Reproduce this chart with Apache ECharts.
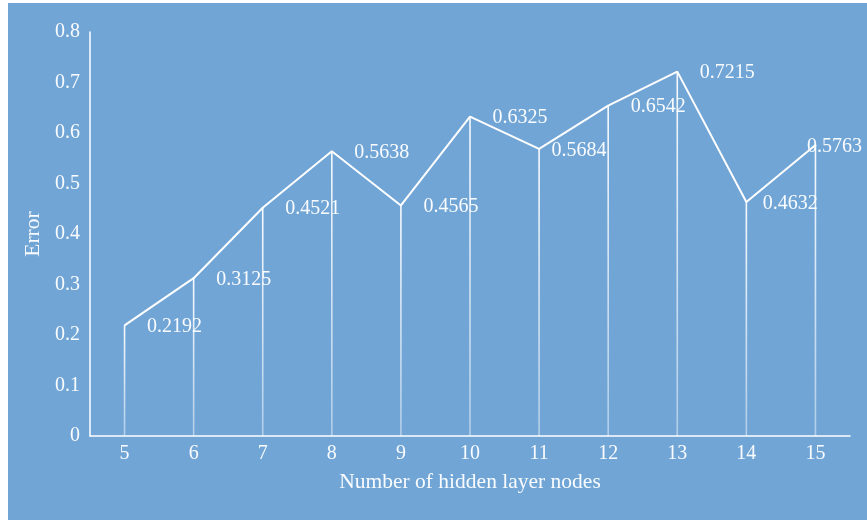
<!DOCTYPE html>
<html>
<head>
<meta charset="utf-8">
<script src="https://cdn.jsdelivr.net/npm/echarts@6/dist/echarts.min.js"></script>
<style>
  html, body { margin: 0; padding: 0; background: #ffffff; }
  #chart { width: 867px; height: 520px; }
</style>
</head>
<body>
<div id="chart"></div>
<script>
// Hidden-layer node counts and the resulting error
const nodeCounts = ['5', '6', '7', '8', '9', '10', '11', '12', '13', '14', '15'];
const errorValues = [0.2192, 0.3125, 0.4521, 0.5638, 0.4565, 0.6325, 0.5684, 0.6542, 0.7215, 0.4632, 0.5763];
const yTicks = [0, 0.1, 0.2, 0.3, 0.4, 0.5, 0.6, 0.7, 0.8];

// Horizontal nudges for a few value labels that sit closer to their point
const labelNudge = { 6: -10, 9: -6, 10: -31 };

const FONT = '"Liberation Serif", "Times New Roman", serif';
const TEXT = 'rgba(255,255,255,0.96)';

const chart = echarts.init(document.getElementById('chart'), null, { renderer: 'canvas' });

const lineData = errorValues.map((v, i) => {
  const item = { value: v };
  if (labelNudge[i] !== undefined) item.label = { offset: [labelNudge[i], 1.5] };
  return item;
});

chart.setOption({
  backgroundColor: '#ffffff',
  animation: false,
  graphic: [{
    type: 'rect',
    z: -10,
    shape: { x: 8, y: 3, width: 859, height: 517 },
    style: { fill: '#71a5d6' }
  }],
  grid: { left: 90, right: 17, top: 32, bottom: 84 },
  xAxis: {
    type: 'category',
    data: nodeCounts,
    boundaryGap: true,
    axisLine: { lineStyle: { color: '#ffffff', width: 1.5 } },
    axisTick: { show: false },
    axisLabel: { color: TEXT, fontFamily: FONT, fontSize: 20, margin: 8 },
    name: 'Number of hidden layer nodes',
    nameLocation: 'middle',
    nameGap: 35,
    nameTextStyle: { color: TEXT, fontFamily: FONT, fontSize: 21.5 }
  },
  yAxis: {
    type: 'value',
    min: yTicks[0],
    max: yTicks[yTicks.length - 1],
    interval: 0.1,
    axisLine: { show: true, lineStyle: { color: '#ffffff', width: 1.5 } },
    axisTick: { show: false },
    splitLine: { show: false },
    axisLabel: {
      color: TEXT, fontFamily: FONT, fontSize: 20, margin: 10,
      formatter: v => (v === 0 ? '0' : v.toFixed(1))
    },
    name: 'Error',
    nameLocation: 'middle',
    nameGap: 42,
    nameTextStyle: { color: TEXT, fontFamily: FONT, fontSize: 21.5 }
  },
  series: [
    {
      // drop lines from each point down to the axis
      type: 'bar',
      data: errorValues,
      barWidth: 1.6,
      silent: true,
      itemStyle: {
        color: new echarts.graphic.LinearGradient(0, 0, 0, 1, [
          { offset: 0, color: 'rgba(255,255,255,0.95)' },
          { offset: 1, color: 'rgba(255,255,255,0.45)' }
        ])
      },
      z: 1
    },
    {
      type: 'line',
      data: lineData,
      showSymbol: true,
      symbol: 'circle',
      symbolSize: 1,
      itemStyle: { color: 'rgba(255,255,255,0)' },
      lineStyle: { color: '#ffffff', width: 2 },
      label: {
        show: true,
        position: 'right',
        distance: 22,
        offset: [0, 1.5],
        color: TEXT,
        fontFamily: FONT,
        fontSize: 20,
        formatter: p => p.value.toFixed(4)
      },
      z: 3
    }
  ]
});
</script>
</body>
</html>
